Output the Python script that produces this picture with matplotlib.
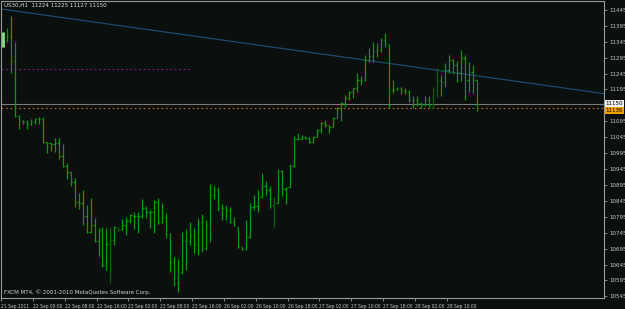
import numpy as np
import matplotlib.pyplot as plt

plt.rcParams['font.family'] = ['Liberation Sans Narrow', 'DejaVu Sans']
plt.rcParams['font.stretch'] = 'condensed'

# US30 H1 bars (open, high, low, close)
opens = [11338, 11360, 11363, 11285, 11112, 11096, 11093, 11087, 11093, 11102,
         11102, 11030, 11027, 11024, 11027, 10986, 10955, 10936, 10905, 10842,
         10839, 10798, 10748, 10770, 10719, 10754, 10653, 10710, 10722, 10760,
         10757, 10770, 10782, 10798, 10798, 10798, 10823, 10810, 10810, 10842,
         10779, 10795, 10741, 10653, 10587, 10622, 10719, 10719, 10735, 10710,
         10779, 10697, 10770, 10864, 10879, 10823, 10823, 10817, 10779, 10763,
         10700, 10694, 10732, 10826, 10829, 10857, 10892, 10879, 10832, 10839,
         10939, 10883, 10889, 10955, 11040, 11040, 11046, 11043, 11030, 11046,
         11068, 11090, 11083, 11077, 11105, 11137, 11153, 11168, 11187, 11200,
         11225, 11225, 11288, 11300, 11316, 11319, 11350, 11338, 11193, 11193,
         11200, 11193, 11187, 11162, 11162, 11153, 11150, 11162, 11150, 11193,
         11225, 11219, 11256, 11288, 11272, 11247, 11294, 11225, 11250, 11224]
highs = [11376, 11388, 11426, 11344, 11115, 11099, 11099, 11102, 11105, 11109,
         11109, 11030, 11027, 11043, 11043, 11024, 10964, 10936, 10917, 10870,
         10879, 10832, 10854, 10791, 10760, 10763, 10760, 10763, 10766, 10763,
         10788, 10795, 10804, 10810, 10810, 10851, 10829, 10817, 10848, 10854,
         10839, 10807, 10744, 10669, 10663, 10748, 10757, 10779, 10760, 10791,
         10804, 10785, 10898, 10892, 10889, 10835, 10832, 10826, 10795, 10763,
         10700, 10785, 10839, 10864, 10879, 10933, 10908, 10892, 10857, 10945,
         10942, 10889, 10961, 11049, 11058, 11052, 11049, 11046, 11049, 11071,
         11093, 11099, 11083, 11109, 11140, 11156, 11178, 11190, 11200, 11247,
         11237, 11303, 11325, 11344, 11341, 11357, 11372, 11338, 11225, 11203,
         11203, 11200, 11193, 11175, 11175, 11156, 11175, 11175, 11203, 11262,
         11241, 11278, 11303, 11291, 11285, 11319, 11303, 11281, 11272, 11225]
lows = [11328, 11344, 11247, 11109, 11071, 11087, 11071, 11083, 11087, 11087,
        11027, 10996, 11002, 10999, 10977, 10952, 10914, 10892, 10826, 10820,
        10770, 10744, 10744, 10716, 10672, 10638, 10628, 10587, 10707, 10751,
        10754, 10738, 10776, 10757, 10744, 10791, 10791, 10760, 10744, 10773,
        10776, 10729, 10622, 10578, 10559, 10616, 10628, 10707, 10682, 10675,
        10685, 10691, 10716, 10851, 10813, 10785, 10785, 10776, 10766, 10697,
        10691, 10691, 10729, 10817, 10810, 10857, 10864, 10823, 10763, 10839,
        10861, 10835, 10889, 10952, 11040, 11040, 11040, 11027, 11027, 11046,
        11058, 11077, 11058, 11077, 11105, 11096, 11140, 11162, 11168, 11187,
        11209, 11222, 11281, 11281, 11297, 11313, 11328, 11137, 11184, 11193,
        11181, 11181, 11156, 11137, 11143, 11137, 11143, 11137, 11137, 11171,
        11175, 11203, 11247, 11244, 11219, 11222, 11162, 11187, 11184, 11127]
closes = [11360, 11363, 11285, 11112, 11096, 11093, 11087, 11093, 11102, 11102,
          11030, 11027, 11024, 11027, 10986, 10955, 10936, 10905, 10842, 10839,
          10798, 10748, 10770, 10719, 10754, 10644, 10710, 10722, 10763, 10754,
          10770, 10782, 10801, 10798, 10798, 10823, 10810, 10810, 10842, 10776,
          10795, 10741, 10653, 10587, 10587, 10719, 10719, 10735, 10710, 10779,
          10697, 10770, 10864, 10879, 10823, 10823, 10817, 10779, 10770, 10700,
          10694, 10732, 10826, 10829, 10829, 10892, 10879, 10883, 10826, 10939,
          10883, 10886, 10955, 11040, 11040, 11046, 11043, 11030, 11046, 11068,
          11090, 11083, 11077, 11105, 11137, 11153, 11168, 11187, 11200, 11225,
          11225, 11288, 11300, 11316, 11319, 11350, 11338, 11193, 11193, 11200,
          11193, 11187, 11162, 11162, 11153, 11150, 11162, 11150, 11193, 11225,
          11219, 11256, 11288, 11272, 11247, 11294, 11225, 11250, 11225, 11150]
dim_bars = [27, 29, 68, 108, 109]

time_labels = ["21 Sep 2011", "22 Sep 00:00", "22 Sep 08:00", "22 Sep 16:00",
               "23 Sep 00:00", "23 Sep 08:00", "23 Sep 16:00", "26 Sep 02:00",
               "26 Sep 10:00", "26 Sep 18:00", "27 Sep 02:00", "27 Sep 10:00",
               "27 Sep 18:00", "28 Sep 02:00", "28 Sep 10:00"]
price_ticks = np.arange(10545, 11446, 50)

# objects drawn on the chart
trend_x = [-0.5, 151]
trend_y = [11448, 11182]
purple_level = 11258
purple_end = 47
orange_level = 11136
bid = 11150

bg = '#0b0f0e'
frame = '#9a9a9a'
txt = '#c8c8c8'
fs = 4.4

fig = plt.figure(figsize=(6.25, 3.09), dpi=100, facecolor=bg)
ax = fig.add_axes([1/625, 11/309, 603/625, 297/309])
ax.set_facecolor(bg)

n = len(closes)
x = np.arange(n)
cols = ['#0a9a0a'] * n
for i in dim_bars:
    cols[i] = '#06620a'

ax.vlines(x, lows, highs, colors=cols, lw=0.9, zorder=3)
ax.hlines(opens, x - 0.32, x, colors=cols, lw=0.9, zorder=3)
ax.hlines(closes, x, x + 0.32, colors=cols, lw=0.9, zorder=3)
# first bar is highlighted (selected) in the terminal
ax.vlines(x[0], lows[0], highs[0], colors='#86e086', lw=2.0, zorder=4)

ax.plot(trend_x, trend_y, color='#1d4a72', lw=0.9, zorder=2)
ax.hlines(purple_level, -0.5, purple_end, colors='#8a1a8a', lw=0.8,
          linestyles=(0, (1.5, 2.5)), zorder=2)
ax.axhline(bid, color='#7a7a7a', lw=0.8, zorder=2)
ax.axhline(orange_level, color='#c86a10', lw=0.8, ls=(0, (1.5, 2.5)), zorder=2)

ax.set_xlim(-0.2, 151)
ax.set_ylim(10540, 11473)

for s in ax.spines.values():
    s.set_color(frame)
    s.set_linewidth(0.8)

# the 11145 level sits under the price boxes, so it shows no label
ax.yaxis.tick_right()
ax.set_yticks(price_ticks)
ax.set_yticklabels(['' if abs(p - bid) < 10 else str(p) for p in price_ticks])
ax.tick_params(axis='y', colors=frame, labelcolor=txt, labelsize=fs,
               length=2, width=0.6, pad=1.5)

ax.set_xticks(np.arange(len(time_labels)) * 8 - 0.5)
ax.set_xticklabels(time_labels, ha='left')
ax.tick_params(axis='x', colors=frame, labelcolor=txt, labelsize=3.6,
               length=2.5, width=0.6, pad=1.8)

# price boxes on the right scale
ytr = ax.get_yaxis_transform()
ax.text(1.003, bid, str(bid), transform=ytr, fontsize=fs, color='black',
        va='center', ha='left', clip_on=False, zorder=5,
        bbox=dict(boxstyle='square,pad=0.15', fc='#f0f0f0', ec='none'))
ax.text(1.003, orange_level - 6, str(orange_level), transform=ytr, fontsize=fs,
        color='black', va='center', ha='left', clip_on=False, zorder=5,
        bbox=dict(boxstyle='square,pad=0.15', fc='#f0a000', ec='none'))

fig.text(4/625, 1 - 5/309, "US30,H1  11224 11225 11127 11150", fontsize=fs,
         color='#e0e0e0', va='center', ha='left')
fig.text(4/625, 1 - 292/309, "FXCM MT4, \u00a9 2001-2010 MetaQuotes Software Corp.",
         fontsize=fs, color='#d0d0d0', va='center', ha='left')

fig.savefig('out.png', dpi=100, facecolor=bg)
